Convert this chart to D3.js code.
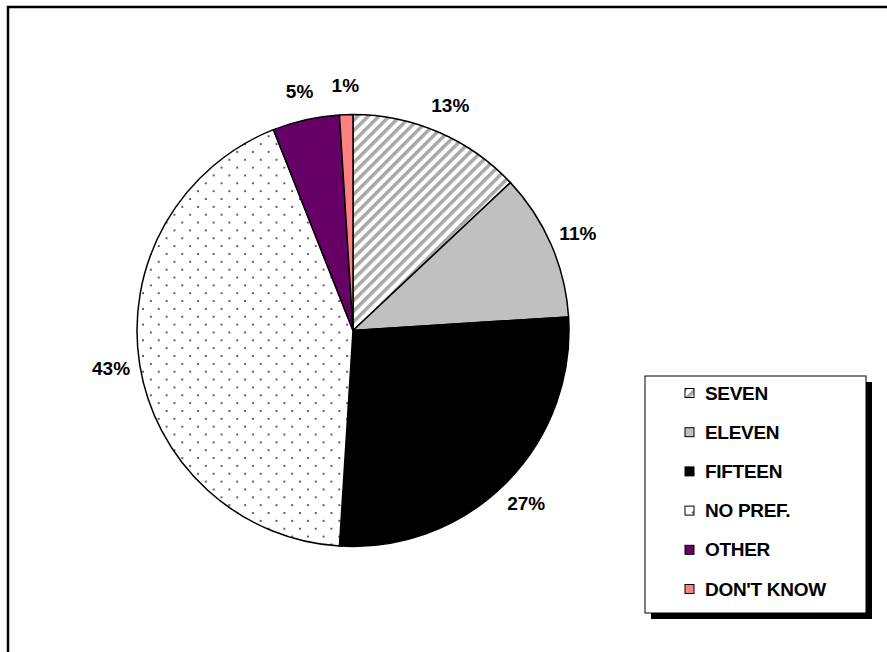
<!DOCTYPE html>
<html><head><meta charset="utf-8">
<script src="https://cdn.jsdelivr.net/npm/d3@7"></script>
<style>body{margin:0;background:#fff;} svg{display:block;}</style>
</head><body>
<script>
const categories = ["SEVEN", "ELEVEN", "FIFTEEN", "NO PREF.", "OTHER", "DON'T KNOW"];
const values = [13, 11, 27, 43, 5, 1];
const valueLabels = ["13%", "11%", "27%", "43%", "5%", "1%"];
const fills = ["url(#stripes)", "#c0c0c0", "#000000", "url(#dots)", "#660066", "#ff8080"];

const W = 887, H = 652;
const svg = d3.select("body").append("svg").attr("width", W).attr("height", H);
const defs = svg.append("defs");

const st = defs.append("pattern").attr("id", "stripes").attr("patternUnits", "userSpaceOnUse")
  .attr("width", 7.5).attr("height", 7.5).attr("patternTransform", "rotate(45)");
st.append("rect").attr("width", 7.5).attr("height", 7.5).attr("fill", "#fff");
st.append("rect").attr("x", 0).attr("width", 3.5).attr("height", 7.5).attr("fill", "#a8a8a8");

const dt = defs.append("pattern").attr("id", "dots").attr("patternUnits", "userSpaceOnUse")
  .attr("width", 15.7).attr("height", 15.7);
dt.append("rect").attr("width", 15.7).attr("height", 15.7).attr("fill", "#fff");
dt.append("circle").attr("cx", 2).attr("cy", 2).attr("r", 1).attr("fill", "#333");
dt.append("circle").attr("cx", 9.85).attr("cy", 9.85).attr("r", 1).attr("fill", "#333");

// frame
svg.append("rect").attr("x", 8).attr("y", 7).attr("width", 900).attr("height", 700)
  .attr("fill", "none").attr("stroke", "#000").attr("stroke-width", 2.5);

const cx = 353, cy = 330.5, r = 216;
const pie = d3.pie().sort(null).value(d => d);
const arcs = pie(values);
const arc = d3.arc().innerRadius(0).outerRadius(r);
const g = svg.append("g").attr("transform", `translate(${cx},${cy})`);
g.selectAll("path.slice").data(arcs).join("path").attr("class", "slice")
  .attr("d", arc).attr("fill", (d, i) => fills[i])
  .attr("stroke", "#000").attr("stroke-width", 1.5).attr("stroke-linejoin", "round");

const labelArc = d3.arc().innerRadius(r + 29).outerRadius(r + 29);
g.selectAll("text.lbl").data(arcs).join("text").attr("class", "lbl")
  .attr("transform", d => `translate(${labelArc.centroid(d)})`)
  .attr("text-anchor", "middle").attr("dy", "0.35em")
  .attr("font-family", "Liberation Sans, Arial, sans-serif").attr("font-weight", "bold")
  .attr("font-size", 19).attr("fill", "#000")
  .text((d, i) => valueLabels[i]);

// legend
const lx = 645, ly = 376, lw = 221, lh = 237;
svg.append("rect").attr("x", lx + 6).attr("y", ly + 6).attr("width", lw).attr("height", lh).attr("fill", "#000");
svg.append("rect").attr("x", lx).attr("y", ly).attr("width", lw).attr("height", lh)
  .attr("fill", "#fff").attr("stroke", "#000").attr("stroke-width", 1);
const rowY = d3.scalePoint().domain(categories).range([393, 589]);
const lg = svg.append("g");
const items = lg.selectAll("g").data(categories).join("g")
  .attr("transform", d => `translate(0,${rowY(d)})`);
items.append("rect").attr("x", 685).attr("y", -4.5).attr("width", 9).attr("height", 9)
  .attr("fill", (d, i) => fills[i]).attr("stroke", "#000").attr("stroke-width", 1);
items.append("text").attr("x", 705).attr("dy", "0.35em")
  .attr("font-family", "Liberation Sans, Arial, sans-serif").attr("font-weight", "bold")
  .attr("font-size", 19).attr("letter-spacing", -0.3).attr("fill", "#000")
  .text(d => d);
</script>
</body></html>
